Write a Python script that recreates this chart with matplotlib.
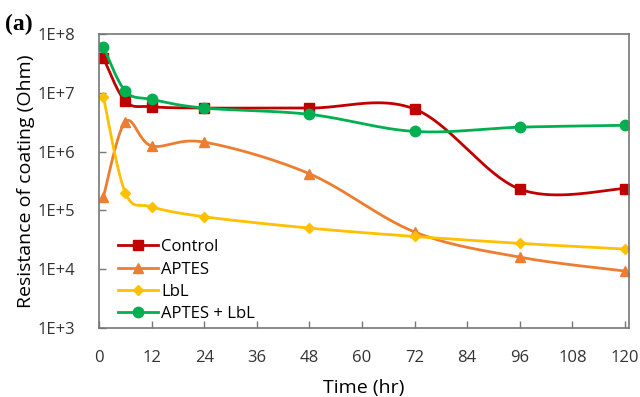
import numpy as np
import matplotlib.pyplot as plt

# time points (hr)
time = [1, 6, 12, 24, 48, 72, 96, 120]

# resistance of coating (Ohm)
control = [3.9e7, 7.2e6, 5.8e6, 5.5e6, 5.5e6, 5.3e6, 2.3e5, 2.35e5]
aptes = [1.7e5, 3.2e6, 1.25e6, 1.45e6, 4.2e5, 4.3e4, 1.6e4, 9.3e3]
lbl = [8.5e6, 2.0e5, 1.15e5, 7.8e4, 5.0e4, 3.6e4, 2.75e4, 2.2e4]
aptes_lbl = [6.0e7, 1.07e7, 7.7e6, 5.5e6, 4.3e6, 2.2e6, 2.6e6, 2.8e6]

x_ticks = [0, 12, 24, 36, 48, 60, 72, 84, 96, 108, 120]
y_ticks = [1e3, 1e4, 1e5, 1e6, 1e7, 1e8]
y_labels = ['1E+3', '1E+4', '1E+5', '1E+6', '1E+7', '1E+8']

FONT = 'Open Sans'


def smooth(x, y, n=40):
    # Excel-style smoothed line: Catmull-Rom through the points in
    # screen-like space (x linear, y log)
    sx = np.asarray(x, float) * 4.38
    sy = np.log10(y) * 58.8
    P = np.column_stack([sx, sy])
    P = np.vstack([P[0], P, P[-1]])
    out = []
    for i in range(1, len(P) - 2):
        p0, p1, p2, p3 = P[i - 1], P[i], P[i + 1], P[i + 2]
        c1 = p1 + (p2 - p0) / 6.0
        c2 = p2 - (p3 - p1) / 6.0
        t = np.linspace(0, 1, n)[:, None]
        seg = ((1 - t) ** 3 * p1 + 3 * (1 - t) ** 2 * t * c1
               + 3 * (1 - t) * t ** 2 * c2 + t ** 3 * p2)
        out.append(seg if i == 1 else seg[1:])
    out = np.vstack(out)
    return out[:, 0] / 4.38, 10 ** (out[:, 1] / 58.8)


fig = plt.figure(figsize=(6.4, 3.97), dpi=100)
ax = fig.add_axes([0.1547, 0.1738, 0.828, 0.7406])

series = [
    ('Control', control, '#C00000', 's', 7),
    ('APTES', aptes, '#ED7D31', '^', 7.5),
    ('LbL', lbl, '#FFC000', 'D', 5.5),
    ('APTES + LbL', aptes_lbl, '#00B050', 'o', 7.5),
]

for name, vals, col, mk, ms in series:
    sx, sy = smooth(time, vals)
    ax.plot(sx, sy, color=col, linewidth=2)
    ax.plot(time, vals, linestyle='none', marker=mk, markersize=ms,
            color=col)
    # legend handle only
    ax.plot([], [], color=col, linewidth=2, marker=mk, markersize=ms,
            label=name)

ax.set_yscale('log')
ax.set_ylim(1e3, 1e8)
ax.set_xlim(0, 120.9)
ax.set_xticks(x_ticks)
ax.set_xticklabels([str(t) for t in x_ticks], fontsize=12, family=FONT,
                   color='#333333')
ax.set_yticks(y_ticks)
ax.set_yticklabels(y_labels, fontsize=12, family=FONT, color='#333333')
ax.yaxis.set_minor_locator(plt.NullLocator())
ax.tick_params(direction='in', length=5, color='#777777', width=1)
ax.tick_params(axis='x', pad=16)
ax.tick_params(axis='y', pad=17)

for s in ax.spines.values():
    s.set_color('#777777')
    s.set_linewidth(1.2)

ax.set_xlabel('Time (hr)', fontsize=14, family=FONT, labelpad=9)
ax.set_ylabel('Resistance of coating (Ohm)', fontsize=14, family=FONT,
              labelpad=2)

ax.legend(loc='lower left', bbox_to_anchor=(0.025, 0.0), frameon=False,
          prop={'family': FONT, 'size': 12}, handlelength=2.4,
          handletextpad=0.2, labelspacing=0.38, borderaxespad=0.05,
          borderpad=0.3)

fig.text(0.008, 0.965, '(a)', fontsize=17, fontweight='bold',
         family='Liberation Serif', va='top')

fig.savefig('out.png', dpi=100)
